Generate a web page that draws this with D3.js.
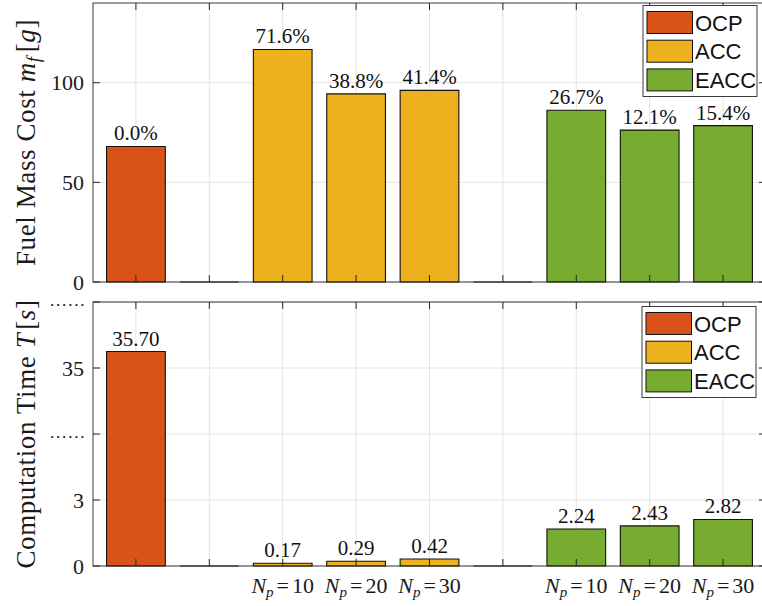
<!DOCTYPE html>
<html>
<head>
<meta charset="utf-8">
<script src="https://cdn.jsdelivr.net/npm/d3@7"></script>
<style>
  html, body { margin: 0; padding: 0; background: #fff; }
  svg { display: block; }
</style>
</head>
<body>
<svg id="chart" width="762" height="606"></svg>
<script>
// Slots along the x axis: OCP, a spacer, three ACC horizons, a spacer, three EACC horizons
const slots = ["OCP", "gap1", "ACC10", "ACC20", "ACC30", "gap2", "EACC10", "EACC20", "EACC30"];
const slotMethod = ["OCP", null, "ACC", "ACC", "ACC", null, "EACC", "EACC", "EACC"];
const horizonLabels = ["", "", "10", "20", "30", "", "10", "20", "30"];
const methods = ["OCP", "ACC", "EACC"];
const methodColors = ["#D95319", "#EDB120", "#77AC30"];

// Fuel mass cost m_f [g] per slot (spacers are empty bars)
const fuelMass = [68.00, 0, 116.69, 94.38, 96.15, 0, 86.16, 76.23, 78.47];
// Computation time T [s] per slot
const compTime = [35.70, 0, 0.17, 0.29, 0.42, 0, 2.24, 2.43, 2.82];

const fuelTicks = [0, 50, 100];
const timeTickLabels = ["0", "3", "......", "35", "......"];

const svg = d3.select("#chart");
const serif = "'Liberation Serif', 'Times New Roman', serif";
const sans = "'Liberation Sans', Arial, Helvetica, sans-serif";
const axisColor = "#262626";
const gridColor = "#e4e4e4";
const tickLen = 7;

const plotLeft = 93, plotRight = 766;

const x = d3.scaleBand()
  .domain(slots)
  .range([plotLeft, plotRight])
  .paddingInner(0.2)
  .paddingOuter(0.185);
const cx = d => x(d) + x.bandwidth() / 2;

// Upper panel: plain linear scale
const yFuel = d3.scaleLinear().domain([0, 140]).range([282, 3]);

// Lower panel: broken axis. Tick rows are evenly spaced; the value scale is
// piecewise so the low range and the high range each get their own segment.
const yTimeTicks = d3.scalePoint()
  .domain(timeTickLabels.map((_, i) => i))
  .range([566, 302]);
const yTime = d3.scaleLinear()
  .domain([0, 4, 35, 37.8])
  .range([yTimeTicks(0), yTimeTicks(1), yTimeTicks(3), yTimeTicks(4)]);

function colorOf(i) {
  return methodColors[methods.indexOf(slotMethod[i])];
}

function drawPanel(p) {
  const g = svg.append("g");
  const top = p.yScale.range()[p.yScale.range().length - 1];
  const bottom = p.yScale.range()[0];

  // grid
  g.selectAll(null).data(slots).join("line")
    .attr("x1", d => cx(d)).attr("x2", d => cx(d))
    .attr("y1", top).attr("y2", bottom)
    .attr("stroke", gridColor).attr("stroke-width", 1);
  g.selectAll(null).data(p.ticks).join("line")
    .attr("x1", plotLeft).attr("x2", plotRight)
    .attr("y1", d => d.pos).attr("y2", d => d.pos)
    .attr("stroke", gridColor).attr("stroke-width", 1);

  // bars (paths so that empty bars still show their edge)
  const base = p.yScale(0);
  g.selectAll(null).data(p.values).join("path")
    .attr("d", (v, i) => {
      const x0 = x(slots[i]), x1 = x0 + x.bandwidth(), yt = p.yScale(v);
      return `M${x0},${base}V${yt}H${x1}V${base}Z`;
    })
    .attr("fill", (v, i) => slotMethod[i] ? colorOf(i) : "none")
    .attr("stroke", "#111")
    .attr("stroke-width", 1.1);

  // value labels
  g.selectAll(null).data(p.values.map((v, i) => ({v, i})).filter(d => slotMethod[d.i]))
    .join("text")
    .attr("x", d => cx(slots[d.i]))
    .attr("y", d => p.yScale(d.v) - 6)
    .attr("text-anchor", "middle")
    .attr("font-family", serif)
    .attr("font-size", 21)
    .attr("fill", "#111")
    .text(d => p.labelOf(d.v, d.i));

  // box
  g.append("rect")
    .attr("x", plotLeft).attr("y", top)
    .attr("width", plotRight - plotLeft).attr("height", bottom - top)
    .attr("fill", "none").attr("stroke", axisColor).attr("stroke-width", 0.9);

  // x ticks (bottom and top, pointing inward)
  g.selectAll(null).data(slots).join("line")
    .attr("x1", d => cx(d)).attr("x2", d => cx(d))
    .attr("y1", bottom).attr("y2", bottom - tickLen)
    .attr("stroke", axisColor).attr("stroke-width", 1);
  g.selectAll(null).data(slots).join("line")
    .attr("x1", d => cx(d)).attr("x2", d => cx(d))
    .attr("y1", top).attr("y2", top + tickLen)
    .attr("stroke", axisColor).attr("stroke-width", 1);

  // y ticks (left and right, pointing inward)
  g.selectAll(null).data(p.ticks).join("line")
    .attr("x1", plotLeft).attr("x2", plotLeft + tickLen)
    .attr("y1", d => d.pos).attr("y2", d => d.pos)
    .attr("stroke", axisColor).attr("stroke-width", 1);
  g.selectAll(null).data(p.ticks).join("line")
    .attr("x1", plotRight).attr("x2", plotRight - tickLen)
    .attr("y1", d => d.pos).attr("y2", d => d.pos)
    .attr("stroke", axisColor).attr("stroke-width", 1);

  // y tick labels; the break markers are set small, bold and spaced out
  const isBreak = l => /^\.+$/.test(l);
  g.selectAll(null).data(p.ticks).join("text")
    .attr("x", d => isBreak(d.label) ? plotLeft - 9 + 2.8 : plotLeft - 9)
    .attr("y", d => isBreak(d.label) ? d.pos + 4 : d.pos + 7.5)
    .attr("text-anchor", "end")
    .attr("font-family", serif)
    .attr("font-size", d => isBreak(d.label) ? 13 : 22)
    .attr("font-weight", d => isBreak(d.label) ? "bold" : "normal")
    .attr("letter-spacing", d => isBreak(d.label) ? 2.8 : 0)
    .attr("fill", "#1a1a1a")
    .text(d => d.label);

  // y axis title
  const t = g.append("text")
    .attr("transform", `translate(35,${(top + bottom) / 2}) rotate(-90)`)
    .attr("text-anchor", "middle")
    .attr("font-family", serif)
    .attr("font-size", 27)
    .attr("letter-spacing", 0.6)
    .attr("fill", "#1a1a1a");
  p.ylabel(t);

  // legend
  const lg = g.append("g").attr("transform", `translate(${p.legend[0]},${p.legend[1]})`);
  lg.append("rect")
    .attr("width", 114).attr("height", 91)
    .attr("fill", "#fff").attr("stroke", axisColor).attr("stroke-width", 0.9);
  methods.forEach((m, k) => {
    lg.append("rect")
      .attr("x", 4).attr("y", 6 + k * 28.7)
      .attr("width", 45.5).attr("height", 22)
      .attr("fill", methodColors[k]).attr("stroke", "#111").attr("stroke-width", 1);
    lg.append("text")
      .attr("x", 52).attr("y", 6 + k * 28.7 + 19)
      .attr("font-family", sans).attr("font-size", 22)
      .attr("fill", "#111")
      .text(m);
  });
  return g;
}

// Upper panel: fuel mass, labelled by change relative to OCP
drawPanel({
  yScale: yFuel,
  values: fuelMass,
  ticks: fuelTicks.map(v => ({pos: yFuel(v), label: String(v)})),
  labelOf: v => ((v / fuelMass[0] - 1) * 100).toFixed(1) + "%",
  legend: [643, 5.5],
  ylabel: t => {
    t.append("tspan").text("Fuel Mass Cost ");
    t.append("tspan").attr("font-style", "italic").text("m");
    t.append("tspan").attr("font-style", "italic").attr("font-size", 19).attr("dy", 5).text("f");
    t.append("tspan").attr("dy", -5).attr("dx", 4).text("[");
    t.append("tspan").attr("font-style", "italic").text("g");
    t.append("tspan").text("]");
  }
});

// Lower panel: computation time on a broken axis
const lower = drawPanel({
  yScale: yTime,
  values: compTime,
  ticks: timeTickLabels.map((l, i) => ({pos: yTimeTicks(i), label: l})),
  labelOf: v => v.toFixed(2),
  legend: [642, 306.5],
  ylabel: t => {
    t.append("tspan").text("Computation Time ");
    t.append("tspan").attr("font-style", "italic").text("T");
    t.append("tspan").attr("dx", 3).text("[");
    t.append("tspan").attr("font-style", "italic").text("s");
    t.append("tspan").text("]");
  }
});

// Prediction horizon labels under the ACC and EACC groups
const xl = lower.selectAll(null)
  .data(slots.map((s, i) => ({s, h: horizonLabels[i]})).filter(d => d.h))
  .join("text")
  .attr("x", d => cx(d.s))
  .attr("y", 593)
  .attr("text-anchor", "middle")
  .attr("font-family", serif)
  .attr("font-size", 22)
  .attr("fill", "#1a1a1a");
xl.append("tspan").attr("font-style", "italic").text("N");
xl.append("tspan").attr("font-style", "italic").attr("font-size", 15).attr("dy", 4).text("p");
xl.append("tspan").attr("dy", -4).attr("dx", 3).text("=");
xl.append("tspan").attr("dx", 3).text(d => d.h);
</script>
</body>
</html>
